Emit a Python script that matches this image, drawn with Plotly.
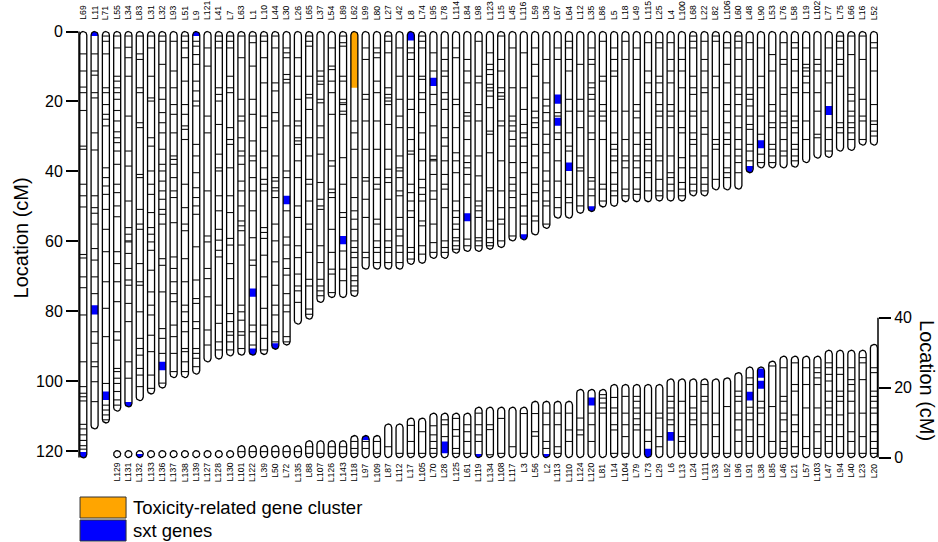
import math
import plotly.graph_objects as go

FONT = "Liberation Sans, Arial, Helvetica, sans-serif"

# ---------------- data ----------------
top_names = ["L69", "L11", "L71", "L55", "L34", "L83", "L31", "L32", "L93", "L51", "L9", "L121", "L41", "L7",
             "L63", "L1", "L10", "L44", "L30", "L26", "L65", "L37", "L54", "L89", "L62", "L99", "L80", "L27",
             "L42", "L8", "L74", "L95", "L78", "L114", "L84", "L98", "L123", "L15", "L45", "L116", "L59", "L36",
             "L67", "L64", "L12", "L35", "L86", "L5", "L18", "L49", "L115", "L25", "L4", "L100", "L68", "L22",
             "L82", "L106", "L60", "L48", "L90", "L53", "L76", "L58", "L19", "L102", "L77", "L75", "L66", "L16",
             "L52"]
top_lengths = [122, 113.7, 112, 108.6, 107.4, 105.6, 103.7, 102, 99, 99,
               98, 94.5, 93.7, 92.8, 92.6, 92.6, 92.4, 90.9, 89.7, 83.7,
               82.3, 77.5, 76.1, 76.1, 75.8, 68, 68, 68, 68, 66.6,
               66.3, 64.9, 64.9, 63.4, 62.9, 62.9, 62.3, 61.8, 59.9, 59.6,
               58.2, 56.3, 53.4, 53.4, 52, 51.5, 50.2, 50, 48.7, 48.7,
               48.7, 48.5, 48.5, 48.5, 47, 47, 45.3, 45.3, 45.1, 40.4,
               39, 39, 39, 38.8, 37.5, 36.2, 36, 34.2, 34, 32.5, 32.5]
top_markers = [
    [6.4, 11.3, 15.9, 17.5, 22.6, 32.8, 33.7, 43.7, 47.0, 50.2, 63.8, 64.8, 70.2, 73.3, 81.1, 94.5, 101.6, 103.5,
     104.5, 105.7, 112.4, 113.7, 115.4, 117.0, 118.5, 119.5],
    [6.4, 11.3, 12.5, 17.5, 19.0, 29.0, 33.9, 47.0, 50.4, 52.0, 55.1, 62.1, 65.4, 70.2, 75.0, 85.9, 89.2, 94.5,
     95.9, 100.2, 105.9],
    [1.3, 2.8, 6.4, 16.1, 17.5, 20.9, 23.7, 25.1, 27.0, 39.0, 41.8, 44.2, 46.6, 50.9, 56.6, 63.0, 71.6, 79.2, 87.3,
     100.7, 106.9, 108.3, 109.7, 111.1],
    [1.3, 4.7, 12.8, 14.2, 16.1, 17.5, 19.4, 22.6, 25.6, 28.7, 30.4, 31.8, 34.2, 38.0, 43.7, 46.1, 49.9, 53.0, 63.0,
     66.4, 71.6, 77.3, 85.9, 88.3, 96.4, 97.3, 99.2, 100.7, 103.0, 105.4, 106.9],
    [1.3, 4.5, 7.5, 12.8, 24.2, 34.2, 38.5, 48.5, 56.1, 58.0, 59.9, 60.2, 63.5, 67.8, 71.1, 72.6, 77.8, 83.0, 94.5,
     99.2],
    [1.3, 6.4, 8.0, 16.1, 17.5, 26.1, 27.5, 40.9, 41.8, 50.9, 55.1, 56.6, 66.4, 71.6, 72.6, 80.2, 87.8, 90.7, 92.6,
     96.4, 98.3, 101.6],
    [1.3, 4.7, 12.8, 19.0, 19.9, 30.4, 32.8, 39.9, 43.7, 46.6, 51.8, 56.1, 58.0, 60.2, 62.6, 68.3, 74.5, 78.3, 81.1,
     86.9, 91.6, 98.3, 102.1],
    [1.3, 2.8, 9.4, 16.1, 19.4, 23.2, 26.1, 29.0, 33.7, 38.0, 39.9, 42.8, 45.6, 48.0, 50.9, 52.3, 55.1, 65.0, 66.9,
     74.5, 85.0, 87.8, 92.1, 100.6],
    [2.8, 11.3, 16.1, 20.9, 23.7, 29.0, 35.6, 36.6, 38.0, 41.8, 45.6, 47.5, 54.7, 64.5, 67.8, 71.6, 75.0, 77.3, 84.0,
     87.3, 92.1, 97.3],
    [1.3, 2.8, 4.7, 7.5, 14.2, 20.9, 23.7, 27.0, 28.0, 30.9, 43.7, 50.4, 55.1, 57.0, 65.0, 71.6, 78.3, 80.2, 83.0,
     85.9, 90.7, 91.6, 94.5, 97.3],
    [2.8, 4.2, 6.6, 9.4, 14.2, 17.0, 19.9, 21.3, 32.3, 35.6, 40.4, 44.7, 47.5, 49.9, 52.3, 61.6, 71.1, 76.4, 77.8,
     83.0, 85.0, 90.7, 92.1, 93.5, 95.9],
    [4.7, 9.9, 24.2, 29.0, 45.6, 58.5, 60.2, 67.8, 70.7, 75.9, 85.4, 89.7],
    [1.3, 2.8, 4.7, 16.1, 18.0, 19.9, 26.6, 35.1, 39.0, 39.9, 47.0, 51.3, 56.6, 59.7, 62.6, 64.5, 78.3, 83.5, 88.8,
     91.1],
    [1.3, 2.8, 4.7, 12.8, 16.1, 17.5, 27.5, 30.9, 32.3, 39.0, 47.0, 51.8, 59.2, 61.1, 66.4, 70.7, 80.7, 83.0, 85.9,
     86.9, 88.8, 91.1],
    [1.3, 7.5, 19.4, 24.2, 25.6, 30.4, 34.2, 35.6, 38.0, 42.8, 45.6, 49.9, 54.2, 55.6, 57.0, 61.1, 78.3, 80.2, 82.6,
     85.9, 86.9, 90.7],
    [1.3, 3.2, 9.9, 19.4, 23.7, 31.3, 35.6, 37.0, 41.8, 45.6, 51.3, 59.0, 65.4, 66.9, 84.0, 85.9, 89.7],
    [1.3, 2.8, 7.5, 14.7, 24.2, 27.5, 34.2, 39.0, 42.3, 43.7, 45.6, 56.1, 57.5, 59.2, 64.0, 70.2, 79.2, 84.0, 87.8,
     91.1],
    [1.3, 4.7, 14.7, 17.0, 23.2, 25.6, 35.6, 41.8, 42.8, 44.7, 45.6, 47.5, 55.1, 59.9, 65.9, 72.6, 78.3, 81.1, 85.9,
     88.8],
    [4.7, 6.1, 7.5, 12.3, 13.7, 14.7, 27.0, 39.9, 41.8, 51.3, 58.8, 61.1, 65.0, 67.8, 69.7, 75.0, 78.3, 80.2, 87.3,
     88.8],
    [7.5, 12.8, 19.4, 25.6, 27.0, 30.4, 31.3, 32.3, 37.0, 41.8, 49.9, 53.2, 61.3, 64.7, 69.4, 72.8, 74.2, 77.5],
    [1.3, 2.8, 4.2, 12.8, 18.0, 19.0, 22.3, 30.4, 35.6, 42.3, 43.7, 48.5, 55.1, 56.6, 63.2, 70.9, 72.8, 79.4, 80.9],
    [11.3, 12.8, 14.2, 15.1, 19.4, 20.4, 27.0, 30.4, 35.1, 43.2, 48.0, 49.9, 50.9, 61.3, 66.1, 70.9, 72.8, 74.2,
     75.6],
    [4.7, 9.9, 10.9, 14.2, 17.5, 23.7, 37.0, 38.5, 45.1, 46.1, 47.5, 56.6, 63.2, 68.0, 69.4, 74.7],
    [1.3, 3.2, 4.2, 12.8, 14.2, 19.4, 20.4, 20.9, 22.8, 23.7, 36.1, 43.7, 51.8, 53.2, 62.8, 68.0, 71.3],
    [25.6, 29.0, 33.7, 41.8, 47.5, 51.3, 53.7, 56.6, 59.9, 61.8, 63.2, 64.7, 67.5, 69.9, 71.3, 72.8, 74.2],
    [4.7, 8.0, 18.0, 19.4, 25.6, 33.7, 41.8, 42.8, 48.0, 53.2, 63.2, 64.7],
    [4.7, 6.1, 7.5, 14.2, 17.5, 25.6, 33.7, 41.8, 43.7, 45.1, 53.7, 55.1, 59.9, 61.8, 63.2, 66.1],
    [1.3, 2.8, 6.1, 16.1, 18.0, 19.0, 19.9, 20.9, 26.6, 33.7, 39.4, 41.8, 43.2, 48.0, 56.6, 59.9, 61.8, 63.2, 66.1],
    [4.7, 12.8, 19.4, 24.2, 27.5, 35.6, 39.0, 39.9, 41.8, 45.6, 47.0, 53.2, 56.6, 58.5, 61.3, 63.2, 66.1],
    [4.7, 6.1, 8.0, 12.8, 19.4, 22.3, 27.5, 30.9, 34.2, 35.1, 43.7, 46.1, 48.5, 51.3, 53.2, 61.8, 63.2, 65.1],
    [1.3, 2.8, 4.7, 12.8, 13.7, 17.5, 19.4, 23.2, 29.0, 33.7, 37.0, 42.3, 44.7, 46.6, 48.5, 54.2, 55.6, 61.3, 63.7],
    [6.1, 11.3, 18.0, 20.9, 27.0, 35.6, 36.6, 37.0, 40.9, 45.6, 48.0, 55.1, 60.4, 63.2],
    [4.7, 8.0, 11.3, 12.8, 17.5, 19.4, 22.3, 27.5, 30.4, 32.8, 37.0, 40.9, 43.7, 45.1, 50.4, 59.9, 61.8, 63.2],
    [4.7, 7.5, 19.4, 20.9, 27.5, 34.7, 37.0, 40.4, 48.5, 51.3, 53.2, 55.1, 56.6, 59.0, 59.9, 61.3, 62.3],
    [8.0, 11.3, 14.7, 23.2, 24.2, 25.6, 30.9, 35.6, 37.5, 39.0, 40.9, 43.7, 47.5, 59.4, 61.3],
    [2.8, 12.8, 14.7, 20.9, 25.6, 35.6, 41.3, 48.5, 49.9, 51.3, 53.2, 59.0, 59.9, 61.3],
    [6.1, 9.4, 10.9, 12.3, 15.1, 16.1, 17.0, 18.5, 21.8, 28.5, 29.4, 34.7, 44.7, 45.6, 54.2, 56.6, 59.0, 60.4, 61.3],
    [1.3, 8.0, 11.3, 16.1, 17.5, 18.5, 19.4, 25.6, 27.0, 37.0, 45.6, 50.4, 53.7, 55.1, 59.9],
    [4.7, 16.1, 24.2, 25.6, 27.0, 28.5, 30.9, 32.8, 37.5, 41.8, 43.7, 45.6, 47.5, 50.4, 58.5],
    [6.1, 16.1, 22.3, 26.6, 29.0, 30.4, 32.8, 37.5, 40.4, 46.6, 49.9, 52.8, 55.1],
    [4.7, 9.4, 12.8, 19.0, 22.8, 24.7, 26.1, 27.5, 32.3, 35.6, 39.0, 43.7, 46.1, 48.5, 52.8, 54.2],
    [8.0, 14.7, 19.4, 21.3, 23.2, 25.6, 29.4, 32.3, 34.7, 39.9, 42.8, 45.6, 48.5, 49.9, 55.1],
    [4.7, 8.0, 23.2, 24.2, 29.0, 30.9, 37.0, 42.8, 47.5, 50.4],
    [2.8, 4.7, 8.0, 11.3, 19.4, 22.8, 29.0, 32.8, 34.2, 43.7, 47.5, 49.0],
    [9.4, 19.4, 22.8, 27.5, 35.6, 39.0, 39.9, 47.0, 49.9],
    [4.7, 8.0, 9.4, 14.7, 16.1, 18.0, 19.4, 22.8, 24.2, 29.0, 30.9, 41.8, 42.8, 45.1, 47.0],
    [2.8, 12.8, 14.2, 20.9, 22.8, 24.2, 25.6, 30.9, 43.7, 45.1, 48.5],
    [4.7, 8.0, 11.3, 12.8, 22.8, 29.0, 32.3, 33.7, 35.6, 37.0, 40.4, 43.7, 45.6, 47.0],
    [2.8, 8.0, 22.8, 30.9, 35.6, 37.0, 39.0, 45.1, 47.0],
    [4.7, 8.0, 20.9, 22.8, 24.7, 29.0, 32.3, 35.6, 37.0, 39.0, 41.8, 45.1, 46.6],
    [3.2, 11.3, 14.7, 17.5, 29.0, 30.9, 32.3, 33.7, 35.6, 37.0, 40.4, 41.8, 45.6],
    [3.2, 4.7, 12.8, 14.7, 17.5, 20.9, 22.8, 24.2, 27.5, 35.6, 37.0, 42.3, 45.6, 47.0],
    [3.2, 8.0, 11.3, 14.7, 20.9, 22.8, 24.2, 27.5, 35.6, 40.4, 41.8, 43.7, 45.6],
    [4.7, 8.0, 11.3, 16.1, 22.8, 27.5, 29.0, 36.1, 39.0, 43.2, 45.1, 47.0],
    [1.3, 2.8, 4.7, 12.8, 16.1, 18.0, 22.8, 24.2, 29.0, 30.9, 32.3, 35.6, 39.0, 41.8, 43.7, 45.6],
    [2.8, 8.0, 11.3, 16.1, 17.5, 22.8, 27.5, 29.4, 35.6, 39.0, 41.8, 43.7, 45.6],
    [1.3, 2.8, 12.8, 16.1, 30.9, 32.3, 33.7, 42.3],
    [3.2, 4.7, 9.4, 14.7, 20.9, 22.8, 26.1, 29.0, 30.9, 32.3, 35.6, 39.0, 40.4, 41.8],
    [1.3, 2.8, 4.7, 8.0, 12.8, 16.1, 18.0, 20.9, 24.2, 27.5, 30.9, 33.7, 35.6, 37.5, 40.4],
    [3.2, 8.0, 16.1, 18.0, 19.4, 21.3, 24.2, 26.6, 28.0, 32.3, 34.2, 37.0],
    [4.7, 12.8, 16.1, 24.2, 29.4, 35.1, 37.5],
    [6.6, 11.3, 20.9, 22.8, 26.1, 27.5, 32.3, 33.7, 35.6, 37.5],
    [3.2, 8.0, 9.4, 16.1, 18.0, 22.8, 24.2, 26.1, 27.5, 30.9, 34.2, 35.6],
    [3.2, 4.7, 8.0, 11.3, 16.1, 17.5, 24.2, 25.6, 27.5, 29.0, 32.3, 33.7, 35.6, 37.0],
    [4.7, 9.4, 10.4, 11.3, 12.8, 14.7, 17.5, 25.6, 30.9],
    [8.0, 9.4, 11.3, 17.5, 22.8, 29.4, 30.4],
    [4.7, 11.3, 14.7, 27.5, 30.9, 34.2],
    [1.3, 2.8, 4.7, 8.0, 9.4, 12.8, 26.1, 27.5, 29.0],
    [1.3, 6.6, 16.1, 18.0, 19.9, 22.8, 24.2, 26.1, 27.5, 29.0, 30.9],
    [1.3, 8.0, 19.4, 24.2, 25.6, 30.9],
    [3.2, 4.7, 11.3, 20.9, 25.6, 26.6, 28.5, 29.9],
]

bottom_names = ["L129", "L131", "L132", "L133", "L136", "L137", "L138", "L139", "L127", "L128", "L130", "L101",
                "L122", "L39", "L50", "L72", "L135", "L88", "L107", "L126", "L143", "L118", "L97", "L109", "L87",
                "L112", "L17", "L105", "L70", "L28", "L125", "L61", "L119", "L134", "L108", "L117", "L3", "L56",
                "L2", "L113", "L110", "L124", "L120", "L81", "L14", "L104", "L79", "L73", "L29", "L6", "L13",
                "L24", "L111", "L33", "L92", "L96", "L91", "L38", "L85", "L46", "L21", "L57", "L103", "L47", "L94",
                "L40", "L23", "L20"]
bottom_lengths = [2, 2, 2, 2, 2, 2, 2, 2, 2, 2, 2,
                  3.4, 3.4, 3.4, 3.4, 3.4, 3.4,
                  4.8, 4.8, 4.8, 4.8,
                  6.3, 6.3, 6.3,
                  9.6, 9.6,
                  11.3, 11.3,
                  12.7, 12.7, 12.7, 12.7,
                  14.4, 14.4, 14.4, 14.4, 14.4,
                  16.1, 16.1, 16.1, 16.1,
                  19.5, 19.5, 19.5,
                  20.9, 20.9, 20.9, 20.9, 20.9,
                  22.5, 22.5, 22.5, 22.5, 22.5,
                  22.8, 24.3, 25.9, 25.9, 27.6,
                  29, 29, 29, 29,
                  30.7, 30.7, 30.7, 30.7,
                  32.4]
bottom_markers = [
    [], [], [], [], [], [], [], [], [], [], [],
    [1.7], [1.7], [1.7], [1.7], [1.7], [1.7],
    [1.2, 3.1], [1.2], [1.2, 3.1], [1.2, 3.1],
    [1.2, 2.6, 4.6], [2.6, 4.6], [1.2, 4.6],
    [3.1], [1.2],
    [1.2, 4.6, 9.2], [1.2, 7.4],
    [1.2, 2.6, 4.6, 6.5, 9.1], [6.0, 9.4, 10.8], [1.2, 2.6, 6.1, 8.0, 11.2], [1.2, 4.6, 7.4, 9.4],
    [4.6, 6.5, 9.4, 12.7], [0.8, 8.0, 9.4], [1.2, 11.2], [3.1], [1.2, 12.6],
    [6.1, 7.4, 12.6], [2.6, 4.6, 9.4, 12.7], [1.2, 3.1, 9.4, 12.7], [4.6, 7.9, 12.7],
    [6.5, 7.9, 11.3], [4.6, 9.4, 12.7], [12.7, 14.2, 15.6, 17.0, 18.0],
    [1.2, 7.9, 9.4, 12.7, 14.2, 17.2], [1.2, 6.0, 9.4, 12.7, 17.5], [7.9, 9.4, 11.1, 12.7, 14.2, 16.1, 17.5],
    [4.6, 7.9, 12.7], [3.1, 6.0, 11.3, 12.7],
    [9.4, 10.8, 12.7, 14.2, 16.1, 17.5], [1.2, 4.6, 6.0, 12.7, 16.1], [1.2, 9.4, 10.8, 12.7, 14.2, 17.5],
    [1.2, 9.4, 12.7, 16.1, 17.5, 20.9], [1.2, 6.0, 9.4, 12.7],
    [1.2, 14.6], [1.2, 4.6, 7.9, 10.8, 12.7, 16.1, 17.5, 19.0], [1.2, 4.6, 6.0, 10.8, 12.7, 14.4, 20.9, 22.8],
    [6.0, 9.4, 12.7, 14.2, 16.1], [1.2, 4.6, 14.6, 26.2],
    [1.2, 2.6, 4.6, 7.4, 10.8, 12.7, 16.1, 17.5, 25.7], [1.2, 3.1, 7.4, 9.4, 12.2, 19.0, 20.9, 27.1],
    [2.6, 6.0, 14.2, 20.9, 25.7], [1.2, 2.6, 7.4, 9.4, 14.2, 20.9, 22.8, 24.3, 25.7],
    [1.2, 4.6, 6.0, 9.4, 12.2, 14.2, 16.1, 19.0, 21.9, 23.8, 25.7, 27.1],
    [1.2, 6.0, 9.4, 12.2, 16.1, 17.5, 19.0, 23.8, 25.7], [1.2, 4.6, 7.4, 12.7, 16.1, 19.0, 20.9, 22.3, 25.7],
    [1.2, 6.0, 12.7, 22.3, 27.1, 28.6],
    [1.2, 2.6, 4.6, 7.4, 9.4, 12.7, 14.2, 16.1, 17.5, 19.0, 24.3, 25.7],
]

# gene regions (cM intervals)
sxt_top = {"L69": [(120.3, 122.0)], "L11": [(0.0, 1.3), (78.3, 81.0)], "L71": [(103.0, 105.4)],
           "L34": [(106.0, 107.4)], "L32": [(94.5, 96.9)], "L9": [(0.0, 1.3)], "L1": [(73.5, 75.9), (90.7, 92.6)],
           "L44": [(89.2, 90.9)], "L30": [(47.0, 49.4)], "L89": [(58.5, 60.9)], "L8": [(0.0, 2.6)],
           "L95": [(13.2, 15.6)], "L84": [(52.0, 54.3)], "L116": [(58.0, 59.6)], "L67": [(18.0, 20.7), (24.7, 27.0)],
           "L64": [(37.5, 39.9)], "L35": [(50.0, 51.5)], "L48": [(38.5, 40.4)], "L90": [(31.1, 33.4)],
           "L77": [(21.3, 23.9)]}
toxin_top = {"L62": [(0.0, 16.1)]}
sxt_bottom = {"L132": [(0.0, 1.0)], "L97": [(5.0, 6.3)], "L28": [(1.2, 4.6)], "L119": [(0.0, 1.0)],
              "L2": [(0.0, 1.0)], "L120": [(14.9, 17.2)], "L73": [(0.0, 2.5)], "L6": [(4.8, 7.3)],
              "L91": [(16.3, 18.8)], "L38": [(19.7, 22.0), (22.8, 25.5)]}

left_ticks = [0, 20, 40, 60, 80, 100, 120]
right_ticks = [0, 20, 40]
legend_labels = ["Toxicity-related gene cluster", "sxt genes"]
axis_title = "Location (cM)"

# ---------------- styling / geometry ----------------
TOXIN_COLOR = "#FFA500"
SXT_COLOR = "#0000FF"
HW = 0.31          # half width of a chromosome (x units)
CAP = 1.0          # cap radius (cM)
BOTTOM_SLOT0 = 3   # first slot of the lower row
BOTTOM_BASE = 121.9  # lower row baseline expressed on the left axis
X_RANGE = [-0.38, 70.36]
Y_RANGE = [125.46, -3.29]
Y2_RANGE = [BOTTOM_BASE - Y_RANGE[0], BOTTOM_BASE - Y_RANGE[1]]


def half_width(y, a, b):
    r = min(CAP, (b - a) / 2.0)
    if y < a + r:
        d = (a + r - y) / r
    elif y > b - r:
        d = (y - (b - r)) / r
    else:
        return HW
    d = min(1.0, max(0.0, d))
    return HW * math.sqrt(1 - d * d)


def capsule(xc, a, b, s, e, n=14):
    r = min(CAP, (b - a) / 2.0)
    ys = {s, e}
    for k in range(n + 1):
        for y in (a + r * k / n, b - r + r * k / n):
            if s <= y <= e:
                ys.add(y)
    ys = sorted(ys)
    px = [xc + half_width(y, a, b) for y in ys] + [xc - half_width(y, a, b) for y in reversed(ys)]
    py = ys + list(reversed(ys))
    px.append(px[0])
    py.append(py[0])
    return px, py


def build(names, lengths, markers, slot0, regions_list):
    body = ([], [])
    marks = ([], [])
    fills = [([], []) for _ in regions_list]
    for i, (nm, ln, mk) in enumerate(zip(names, lengths, markers)):
        xc = slot0 + i
        px, py = capsule(xc, 0, ln, 0, ln)
        body[0].extend(px + [None])
        body[1].extend(py + [None])
        for m in mk:
            w = half_width(m, 0, ln) * 0.97
            marks[0].extend([xc - w, xc + w, None])
            marks[1].extend([m, m, None])
        for (reg, store) in zip(regions_list, fills):
            for (s, e) in reg.get(nm, []):
                px, py = capsule(xc, 0, ln, s, min(e, ln))
                store[0].extend(px + [None])
                store[1].extend(py + [None])
    return body, marks, fills


fig = go.Figure()


def add_group(body, marks, fills, colors, yaxis):
    fig.add_trace(go.Scatter(x=body[0], y=body[1], mode="lines", fill="toself", fillcolor="white",
                             line=dict(width=0), hoverinfo="skip", yaxis=yaxis, showlegend=False))
    fig.add_trace(go.Scatter(x=marks[0], y=marks[1], mode="lines", line=dict(color="#111111", width=1.1),
                             hoverinfo="skip", yaxis=yaxis, showlegend=False))
    for (fx, fy), col in zip(fills, colors):
        if fx:
            fig.add_trace(go.Scatter(x=fx, y=fy, mode="lines", fill="toself", fillcolor=col,
                                     line=dict(width=0), hoverinfo="skip", yaxis=yaxis, showlegend=False))
    fig.add_trace(go.Scatter(x=body[0], y=body[1], mode="lines", line=dict(color="black", width=1.3),
                             hoverinfo="skip", yaxis=yaxis, showlegend=False))


tb, tm, tf = build(top_names, top_lengths, top_markers, 0, [sxt_top, toxin_top])
add_group(tb, tm, tf, [SXT_COLOR, TOXIN_COLOR], "y")
bb, bm, bf = build(bottom_names, bottom_lengths, bottom_markers, BOTTOM_SLOT0, [sxt_bottom])
add_group(bb, bm, bf, [SXT_COLOR], "y2")

LABEL_SIZE = 8.6
annotations = []
for i, nm in enumerate(top_names):
    annotations.append(dict(x=i, y=-2.75, xref="x", yref="y", text=nm, textangle=-90, showarrow=False,
                            xanchor="center", yanchor="bottom",
                            font=dict(family=FONT, size=LABEL_SIZE, color="black")))
for i, nm in enumerate(bottom_names):
    annotations.append(dict(x=BOTTOM_SLOT0 + i, y=-0.95, xref="x", yref="y2", text=nm, textangle=-90,
                            showarrow=False, xanchor="center", yanchor="top",
                            font=dict(family=FONT, size=LABEL_SIZE, color="black")))
annotations.append(dict(x=-0.0726, y=0.5167, xref="paper", yref="paper", text=axis_title, textangle=-90,
                        showarrow=False, xanchor="center", yanchor="middle",
                        font=dict(family=FONT, size=20, color="black")))
annotations.append(dict(x=1.0613, y=0.1978, xref="paper", yref="paper", text=axis_title, textangle=90,
                        showarrow=False, xanchor="center", yanchor="middle",
                        font=dict(family=FONT, size=20, color="black")))

legend_colors = [TOXIN_COLOR, SXT_COLOR]
legend_y = [(-0.06, -0.1067), (-0.1111, -0.1578)]
shapes = []
for lab, col, (y0, y1) in zip(legend_labels, legend_colors, legend_y):
    shapes.append(dict(type="rect", xref="paper", yref="paper", x0=0.0013, x1=0.0589, y0=y1, y1=y0,
                       fillcolor=col, line=dict(color="#333333", width=1)))
    annotations.append(dict(x=0.0651, y=(y0 + y1) / 2, xref="paper", yref="paper", text=lab, showarrow=False,
                            xanchor="left", yanchor="middle", font=dict(family=FONT, size=18.5, color="black")))

shapes.append(dict(type="line", xref="paper", yref="y", x0=0, x1=0, y0=0, y1=BOTTOM_BASE,
                   line=dict(color="black", width=1.5)))
shapes.append(dict(type="line", xref="paper", yref="y2", x0=1, x1=1, y0=0, y1=right_ticks[-1],
                   line=dict(color="black", width=1.5)))

fig.update_layout(
    width=938, height=542,
    margin=dict(l=79, r=60, t=20, b=72),
    paper_bgcolor="white", plot_bgcolor="white",
    showlegend=False,
    font=dict(family=FONT, color="black"),
    xaxis=dict(range=X_RANGE, visible=False, showgrid=False, zeroline=False),
    yaxis=dict(range=Y_RANGE, tickvals=left_ticks, ticks="outside", ticklen=12, tickwidth=1.5,
               tickcolor="black", showline=False, showgrid=False, zeroline=False,
               tickfont=dict(family=FONT, size=16, color="black")),
    yaxis2=dict(range=Y2_RANGE, overlaying="y", side="right", tickvals=right_ticks, ticks="outside",
                ticklen=12, tickwidth=1.5, tickcolor="black", showline=False, showgrid=False,
                zeroline=False, tickfont=dict(family=FONT, size=16, color="black")),
    annotations=annotations,
    shapes=shapes,
)

fig.write_html("out.html", config={"displayModeBar": False},
               post_script="document.body.style.margin='0px';document.body.style.padding='0px';"
                           "document.body.style.overflow='hidden';")
